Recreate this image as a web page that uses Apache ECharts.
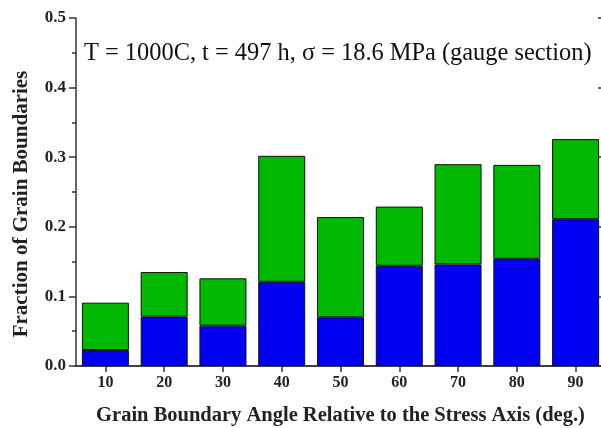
<!DOCTYPE html>
<html>
<head>
<meta charset="utf-8">
<script src="https://cdn.jsdelivr.net/npm/echarts@6/dist/echarts.min.js"></script>
<style>html,body{margin:0;padding:0;background:#fff;}#c{width:601px;height:428px;}</style>
</head>
<body>
<div id="c"></div>
<script>
var categories = ['10', '20', '30', '40', '50', '60', '70', '80', '90'];
var blueValues = [0.023, 0.071, 0.058, 0.121, 0.070, 0.144, 0.146, 0.154, 0.211];
var greenValues = [0.068, 0.064, 0.068, 0.181, 0.144, 0.085, 0.144, 0.135, 0.115];
var yTicks = ['0.0', '0.1', '0.2', '0.3', '0.4', '0.5'];

var chart = echarts.init(document.getElementById('c'), null, {renderer: 'canvas'});
var font = 'Liberation Serif';
var axisCol = '#333';
chart.setOption({
  animation: false,
  backgroundColor: '#fff',
  grid: {left: 76, right: -4, top: 18, bottom: 62, containLabel: false, outerBoundsMode: 'none'},
  xAxis: [{
    type: 'category', data: categories, position: 'bottom',
    axisLine: {lineStyle: {color: axisCol, width: 1.5}},
    axisTick: {show: true, alignWithLabel: true, inside: false, length: 6, lineStyle: {color: axisCol, width: 1.5}},
    axisLabel: {color: '#222', fontFamily: font, fontWeight: 'bold', fontSize: 16, margin: 9},
    name: 'Grain Boundary Angle Relative to the Stress Axis (deg.)',
    nameLocation: 'middle', nameGap: 39,
    nameTextStyle: {color: '#222', fontFamily: font, fontWeight: 'bold', fontSize: 20.5}
  }, {
    type: 'category', data: categories, position: 'top',
    axisLine: {lineStyle: {color: axisCol, width: 1.5}},
    axisTick: {show: true, alignWithLabel: true, inside: true, length: 6, lineStyle: {color: axisCol, width: 1.5}},
    axisLabel: {show: false}
  }],
  yAxis: [{
    type: 'value', min: 0, max: 0.5, interval: 0.1, position: 'left',
    splitLine: {show: false},
    axisLine: {show: true, lineStyle: {color: axisCol, width: 1.5}},
    axisTick: {show: true, inside: false, length: 7, lineStyle: {color: axisCol, width: 1.5}},
    minorTick: {show: true, splitNumber: 2, length: 4, lineStyle: {color: axisCol, width: 1.5}},
    axisLabel: {color: '#222', fontFamily: font, fontWeight: 'bold', fontSize: 17, margin: 10,
      formatter: function (v) { return yTicks[Math.round(v * 10)]; }}
  }, {
    type: 'value', min: 0, max: 0.5, interval: 0.1, position: 'right',
    splitLine: {show: false},
    axisLine: {show: true, lineStyle: {color: axisCol, width: 1.5}},
    axisTick: {show: true, inside: true, length: 7, lineStyle: {color: axisCol, width: 1.5}},
    minorTick: {show: true, splitNumber: 2, length: 4, lineStyle: {color: axisCol, width: 1.5}},
    axisLabel: {show: false}
  }],
  graphic: [{
    type: 'text', left: 84, top: 42,
    style: {text: 'T = 1000C, t = 497 h, \u03c3 = 18.6 MPa (gauge section)', font: '24.4px "Liberation Serif"', fill: '#111'}
  }, {
    type: 'text', x: 22, y: 204, rotation: Math.PI / 2,
    style: {text: 'Fraction of Grain Boundaries', font: 'bold 21px "Liberation Serif"', fill: '#222',
      textAlign: 'center', textVerticalAlign: 'middle'}
  }],
  series: [{
    type: 'bar', stack: 'a', data: blueValues, barWidth: '80%',
    itemStyle: {color: '#0000f2', borderColor: '#111', borderWidth: 1}
  }, {
    type: 'bar', stack: 'a', data: greenValues, barWidth: '80%',
    itemStyle: {color: '#00b800', borderColor: '#111', borderWidth: 1}
  }]
});
</script>
</body>
</html>
